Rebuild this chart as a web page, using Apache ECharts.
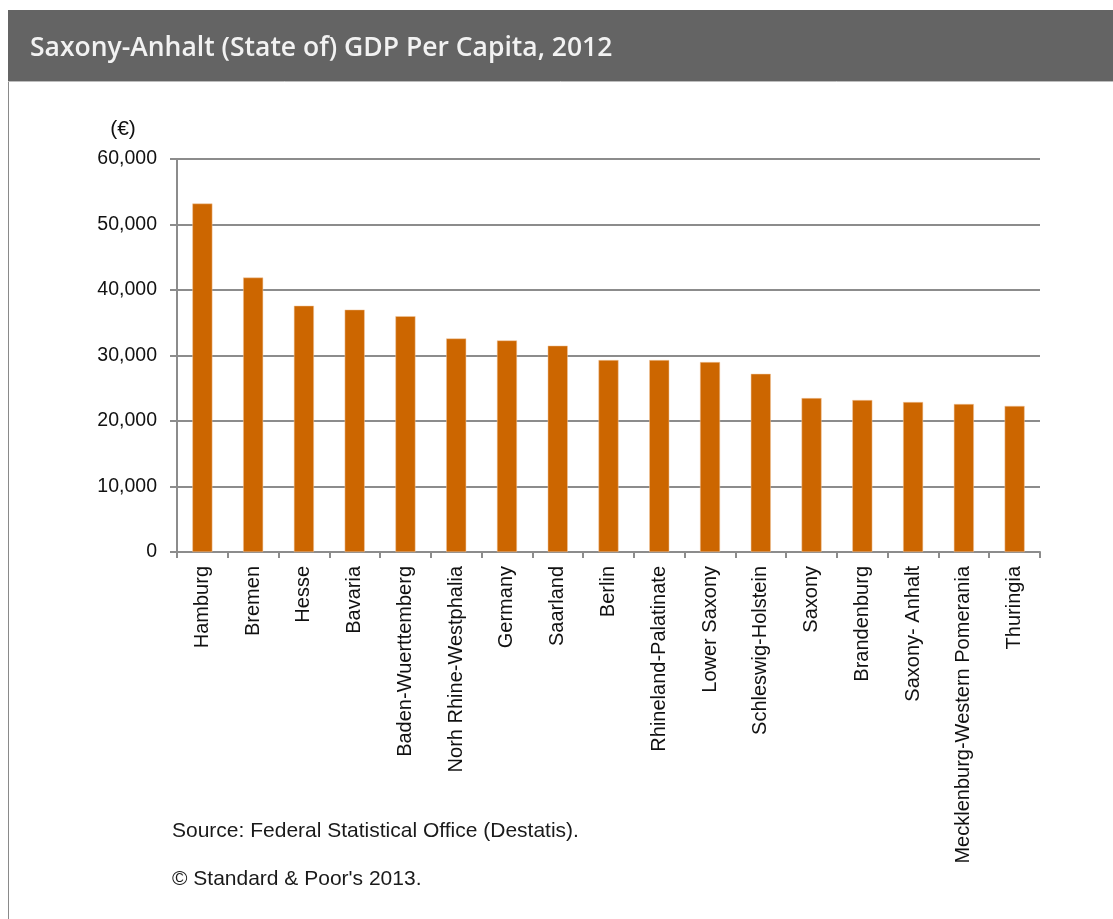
<!DOCTYPE html>
<html>
<head>
<meta charset="utf-8">
<script src="https://cdn.jsdelivr.net/npm/echarts@6/dist/echarts.min.js"></script>
<style>
  html, body { margin: 0; padding: 0; background: #fff; }
  #chart { width: 1113px; height: 919px; }
</style>
</head>
<body>
<div id="chart"></div>
<script>
  const regions = [
    'Hamburg', 'Bremen', 'Hesse', 'Bavaria', 'Baden-Wuerttemberg',
    'Norh Rhine-Westphalia', 'Germany', 'Saarland', 'Berlin',
    'Rhineland-Palatinate', 'Lower Saxony', 'Schleswig-Holstein', 'Saxony',
    'Brandenburg', 'Saxony- Anhalt', 'Mecklenburg-Western Pomerania', 'Thuringia'
  ]
  const gdpPerCapita = [
    53200, 41900, 37600, 37000, 36000,
    32600, 32300, 31500, 29300,
    29300, 29000, 27200, 23500,
    23200, 22900, 22600, 22300
  ]
  const yTicks = [0, 10000, 20000, 30000, 40000, 50000, 60000]

  const labelFont = '"Liberation Sans", Arial, sans-serif'

  const chart = echarts.init(document.getElementById('chart'))

  const option = {
    animation: false,
    backgroundColor: '#ffffff',
    title: {
      text: 'Saxony-Anhalt (State of) GDP Per Capita, 2012',
      left: 30,
      top: 35,
      padding: 0,
      textStyle: {
        color: '#f2f2f2',
        fontFamily: '"Open Sans", "DejaVu Sans", sans-serif',
        fontSize: 26.5,
        fontWeight: 600
      }
    },
    graphic: [
      {
        type: 'rect',
        z: -1,
        shape: { x: 8, y: 10, width: 1105, height: 71 },
        style: { fill: '#646464' }
      },
      {
        type: 'line',
        shape: { x1: 8.5, y1: 81, x2: 8.5, y2: 919 },
        style: { stroke: '#8a8a8a', lineWidth: 1 }
      },
      {
        type: 'line',
        shape: { x1: 8, y1: 81.5, x2: 1113, y2: 81.5 },
        style: { stroke: '#bdbdbd', lineWidth: 1 }
      },
      {
        type: 'text',
        left: 172,
        top: 821,
        style: {
          text: 'Source: Federal Statistical Office (Destatis).',
          fill: '#1a1a1a',
          font: '21px ' + labelFont
        }
      },
      {
        type: 'text',
        left: 172,
        top: 869,
        style: {
          text: '\u00a9 Standard & Poor\'s 2013.',
          fill: '#1a1a1a',
          font: '21px ' + labelFont
        }
      }
    ],
    grid: {
      left: 177,
      right: 73,
      top: 159,
      bottom: 367,
      containLabel: false
    },
    xAxis: {
      type: 'category',
      data: regions,
      axisLine: { lineStyle: { color: '#8c8c8c', width: 2 } },
      axisTick: { show: true, length: 6, lineStyle: { color: '#8c8c8c', width: 2 } },
      axisLabel: {
        rotate: 90,
        interval: 0,
        margin: 14,
        color: '#111',
        fontFamily: labelFont,
        fontSize: 20
      }
    },
    yAxis: {
      type: 'value',
      min: yTicks[0],
      max: yTicks[yTicks.length - 1],
      interval: 10000,
      name: '(\u20ac)',
      nameLocation: 'end',
      nameGap: 19,
      nameTextStyle: {
        color: '#111',
        fontFamily: labelFont,
        fontSize: 21,
        align: 'center',
        padding: [0, 0, 0, -108]
      },
      axisLine: { show: true, lineStyle: { color: '#8c8c8c', width: 2 } },
      axisTick: { show: true, length: 7, lineStyle: { color: '#8c8c8c', width: 2 } },
      splitLine: { show: true, lineStyle: { color: '#8c8c8c', width: 2 } },
      axisLabel: {
        margin: 20,
        color: '#111',
        fontFamily: labelFont,
        fontSize: 19.5,
        formatter: v => v.toLocaleString('en-US')
      }
    },
    series: [
      {
        type: 'bar',
        data: gdpPerCapita,
        barWidth: 20,
        itemStyle: {
          color: '#cc6600',
          borderColor: '#f3c9a0',
          borderWidth: 0.5
        }
      }
    ]
  }

  chart.setOption(option)
</script>
</body>
</html>
